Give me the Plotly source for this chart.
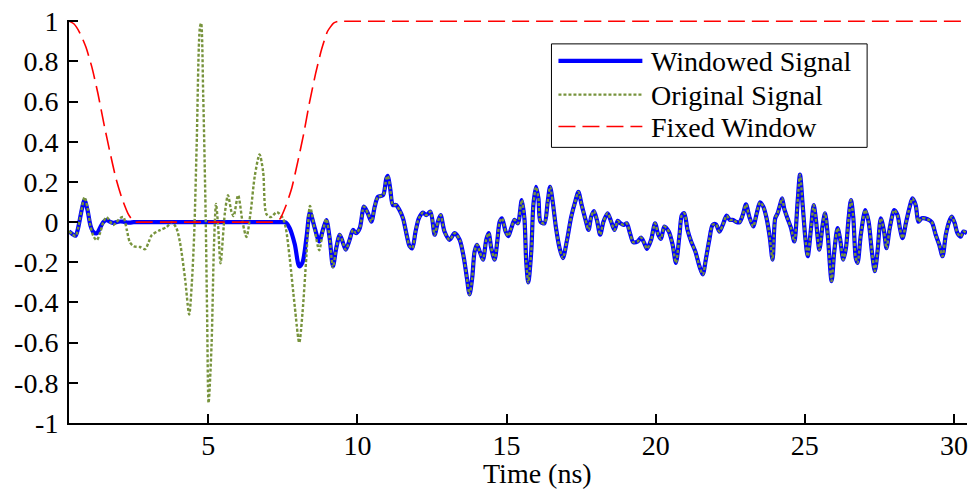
import plotly.graph_objects as go

# ---- Data -------------------------------------------------------------
# Leading part of the record (ns): raw signal and the signal after windowing
t_pre = [0.33, 0.45, 0.55, 0.65, 0.75, 0.85, 0.95, 1.05, 1.15, 1.26, 1.38, 1.48,
         1.59, 1.70, 1.81, 1.92, 2.05, 2.15, 2.27, 2.37, 2.50, 2.71, 2.88, 3.00,
         3.10, 3.38, 3.60, 3.78, 3.93, 4.05, 4.22, 4.36, 4.45, 4.53, 4.61, 4.72,
         4.76, 4.83, 4.91, 4.96, 5.01, 5.11, 5.19, 5.26, 5.33, 5.41, 5.56, 5.66,
         5.78, 5.85, 6.00, 6.15, 6.28, 6.42, 6.56, 6.72, 6.84, 6.95, 7.10, 7.30,
         7.50, 7.60, 7.73, 7.90, 8.05, 8.16, 8.29, 8.41, 8.57, 8.72, 8.85, 8.96,
         9.07, 9.18, 9.29, 9.41]
original_pre = [-0.046, -0.06, -0.07, -0.02, 0.06, 0.125, 0.07, -0.02, -0.07, -0.09, -0.05, 0.0,
                0.025, 0.005, -0.015, 0.0, 0.02, 0.025, -0.04, -0.10, -0.12, -0.124, -0.135, -0.10,
                -0.066, -0.04, -0.025, 0.0, -0.03, -0.10, -0.28, -0.46, -0.30, -0.05, 0.38, 0.97,
                0.99, 0.63, 0.05, -0.45, -0.90, -0.61, -0.12, 0.09, -0.02, -0.205, 0.05, 0.134,
                0.05, 0.03, 0.134, 0.0, -0.074, 0.05, 0.23, 0.337, 0.25, 0.04, 0.025, 0.05,
                0.02, -0.03, -0.18, -0.42, -0.60, -0.45, -0.17, 0.08, -0.04, -0.14, -0.04, 0.015,
                -0.08, -0.225, -0.13, -0.063]
windowed_pre = [-0.046, -0.06, -0.068, -0.02, 0.057, 0.11, 0.06, -0.017, -0.05, -0.056, -0.026, 0.0,
                0.011, 0.002, -0.004, 0.0, 0.003, 0.002, -0.002, -0.003, 0.0, 0.0, 0.0, 0.0,
                0.0, 0.0, 0.0, 0.0, 0.0, 0.0, 0.0, 0.0, 0.0, 0.0, 0.0, 0.0,
                0.0, 0.0, 0.0, 0.0, 0.0, 0.0, 0.0, 0.0, 0.0, 0.0, 0.0, 0.0,
                0.0, 0.0, 0.0, 0.0, 0.0, 0.0, 0.0, 0.0, 0.0, 0.0, 0.0, 0.0,
                0.0, -0.002, -0.03, -0.11, -0.22, -0.20, -0.08, 0.05, -0.03, -0.096, -0.035, 0.01,
                -0.08, -0.22, -0.13, -0.063]

# Remainder of the record, where the window is fully open (both signals coincide)
t_post = [9.52, 9.61, 9.74, 9.85, 9.96, 10.08, 10.22, 10.35, 10.47, 10.58, 10.69, 10.86,
          10.97, 11.02, 11.10, 11.19, 11.30, 11.41, 11.53, 11.64, 11.75, 11.84, 11.95, 12.06,
          12.20, 12.31, 12.45, 12.59, 12.70, 12.79, 12.92, 13.09, 13.26, 13.43, 13.57, 13.67,
          13.76, 13.85, 13.93, 14.01, 14.10, 14.21, 14.32, 14.40, 14.49, 14.60, 14.69, 14.77,
          14.85, 14.97, 15.06, 15.16, 15.27, 15.38, 15.51, 15.60, 15.66, 15.73, 15.83, 15.90,
          15.99, 16.07, 16.14, 16.27, 16.38, 16.46, 16.55, 16.66, 16.78, 16.89, 17.02, 17.17,
          17.30, 17.41, 17.52, 17.65, 17.75, 17.84, 17.93, 18.03, 18.14, 18.25, 18.39, 18.51,
          18.62, 18.73, 18.82, 18.93, 19.03, 19.14, 19.25, 19.40, 19.51, 19.62, 19.71, 19.85,
          19.98, 20.09, 20.18, 20.29, 20.44, 20.57, 20.68, 20.80, 20.88, 20.96, 21.07, 21.19,
          21.33, 21.47, 21.58, 21.69, 21.80, 21.91, 22.02, 22.14, 22.25, 22.38, 22.49, 22.60,
          22.69, 22.81, 22.92, 23.03, 23.14, 23.27, 23.39, 23.50, 23.61, 23.72, 23.83, 23.92,
          24.01, 24.09, 24.17, 24.24, 24.31, 24.42, 24.54, 24.65, 24.76, 24.84, 24.93, 25.02,
          25.10, 25.21, 25.30, 25.37, 25.49, 25.60, 25.68, 25.77, 25.90, 25.99, 26.10, 26.19,
          26.29, 26.38, 26.47, 26.55, 26.63, 26.71, 26.77, 26.88, 27.03, 27.14, 27.25, 27.35,
          27.44, 27.55, 27.66, 27.74, 27.85, 28.00, 28.11, 28.19, 28.28, 28.39, 28.52, 28.61,
          28.72, 28.81, 28.92, 29.12, 29.26, 29.39, 29.51, 29.62, 29.73, 29.84, 29.93, 30.03,
          30.12, 30.23, 30.32, 30.44]
signal_post = [-0.105, -0.137, -0.088, -0.039, -0.055, -0.03, 0.077, 0.044, 0.002, 0.077, 0.126, 0.134,
               0.217, 0.23, 0.167, 0.085, 0.085, 0.06, 0.019, -0.055, -0.12, -0.13, -0.047, 0.019,
               0.047, 0.035, 0.052, -0.063, 0.002, 0.035, -0.047, -0.088, -0.055, -0.088, -0.179, -0.277,
               -0.36, -0.277, -0.146, -0.113, -0.146, -0.187, -0.088, -0.055, -0.13, -0.187, -0.096, 0.002,
               0.019, -0.047, -0.07, -0.03, 0.011, -0.006, 0.11, 0.019, -0.195, -0.30, -0.146, 0.085,
               0.175, 0.118, 0.002, -0.006, 0.10, 0.175, 0.10, -0.03, -0.13, -0.179, -0.096, 0.027,
               0.10, 0.15, 0.085, 0.011, -0.039, 0.027, 0.055, 0.011, -0.063, 0.002, 0.044, 0.002,
               -0.039, 0.006, -0.006, -0.014, -0.006, -0.055, -0.10, -0.096, -0.077, -0.105, -0.133, -0.088,
               -0.006, -0.063, -0.083, -0.022, -0.047, -0.113, -0.203, -0.063, 0.035, 0.044, -0.039, -0.096,
               -0.146, -0.22, -0.26, -0.179, -0.088, -0.014, -0.011, -0.047, -0.014, 0.032, 0.011, 0.011,
               0.002, -0.001, 0.035, 0.088, 0.027, -0.022, 0.044, 0.098, 0.077, 0.019, -0.08, -0.187,
               0.019, 0.044, 0.085, 0.118, 0.068, 0.019, -0.03, -0.096, 0.10, 0.236, 0.085, -0.08,
               -0.17, -0.03, 0.085, 0.019, -0.137, -0.014, 0.044, -0.063, -0.294, -0.146, -0.03, -0.088,
               -0.187, -0.13, 0.019, 0.11, 0.019, -0.179, -0.203, -0.063, 0.06, 0.002, -0.146, -0.244,
               -0.146, 0.019, -0.047, -0.13, -0.03, 0.06, 0.035, -0.03, -0.08, -0.006, 0.077, 0.118,
               0.085, 0.002, 0.019, 0.014, -0.001, -0.063, -0.113, -0.17, -0.063, 0.002, 0.027, -0.006,
               -0.055, -0.072, -0.047, -0.055]

# Fixed taper window (closing and re-opening cosine edges, flat in between)
t_window = [0.33, 0.50, 0.70, 0.90, 1.10, 1.30, 1.50, 1.70, 1.90, 2.10, 2.30, 2.45, 2.53,
            2.70, 4.90, 7.05,
            7.23, 7.40, 7.60, 7.80, 8.00, 8.20, 8.40, 8.60, 8.80, 9.00, 9.20, 9.35, 9.43,
            9.60, 20.0, 30.44]
window = [1.0, 0.986, 0.94, 0.87, 0.77, 0.64, 0.49, 0.35, 0.22, 0.12, 0.045, 0.01, 0.0,
          0.0, 0.0, 0.0,
          0.0, 0.015, 0.08, 0.17, 0.30, 0.44, 0.60, 0.74, 0.86, 0.95, 0.99, 0.999, 1.0,
          1.0, 1.0, 1.0]

time_ns = t_pre + t_post
original_signal = original_pre + signal_post
windowed_signal = windowed_pre + signal_post

x_ticks = [5, 10, 15, 20, 25, 30]
y_ticks = [-1, -0.8, -0.6, -0.4, -0.2, 0, 0.2, 0.4, 0.6, 0.8, 1]
y_tick_text = ["-1", "-0.8", "-0.6", "-0.4", "-0.2", "0", "0.2", "0.4", "0.6", "0.8", "1"]

series_names = ["Windowed Signal", "Original Signal", "Fixed Window"]

# ---- Styling ----------------------------------------------------------
FONT = "Times New Roman"
BLUE = "#0000FF"
GREEN = "#77933C"
RED = "#FF0000"

W, H = 974, 491
L, R, T, B = 69, 6, 18, 68
plot_w = W - L - R
plot_h = H - T - B


def px_to_paper(px, py):
    return (px - L) / plot_w, (H - B - py) / plot_h


def text_font():
    return dict(family=FONT, size=28, color="black")


blue_line = dict(color=BLUE, width=4.2)
green_line = dict(color=GREEN, width=2.4, dash="3px,2px")
red_line = dict(color=RED, width=1.6, dash="17px,7px")

fig = go.Figure()
fig.add_trace(go.Scatter(x=time_ns, y=windowed_signal, mode="lines", name=series_names[0],
                         line=dict(**blue_line, shape="spline", smoothing=0.8), showlegend=False))
fig.add_trace(go.Scatter(x=time_ns, y=original_signal, mode="lines", name=series_names[1],
                         line=dict(**green_line, shape="spline", smoothing=0.8), showlegend=False))
fig.add_trace(go.Scatter(x=t_window, y=window, mode="lines", name=series_names[2],
                         line=dict(**red_line, shape="spline", smoothing=0.5), showlegend=False))

# Legend box drawn in pixel positions
bx0, by0 = px_to_paper(552, 146)
bx1, by1 = px_to_paper(868, 42)
fig.add_shape(type="rect", xref="paper", yref="paper", x0=bx0, y0=by0, x1=bx1, y1=by1,
              line=dict(color="black", width=1), fillcolor="white", layer="above")
legend_rows = [59, 93, 125]
legend_styles = [blue_line, green_line, red_line]
for name, row, style in zip(series_names, legend_rows, legend_styles):
    lx0, ly = px_to_paper(559, row)
    lx1, _ = px_to_paper(643, row)
    fig.add_shape(type="line", xref="paper", yref="paper", x0=lx0, x1=lx1, y0=ly, y1=ly,
                  line=style, layer="above")
    tx, ty = px_to_paper(650, row + 1)
    fig.add_annotation(text=name, xref="paper", yref="paper", x=tx, y=ty,
                       xanchor="left", yanchor="middle", showarrow=False, font=text_font())

# Axis title
ax, ay = px_to_paper(538, 474)
fig.add_annotation(text="Time (ns)", xref="paper", yref="paper", x=ax, y=ay,
                   xanchor="center", yanchor="middle", showarrow=False, font=text_font())

fig.update_layout(
    width=W, height=H,
    margin=dict(l=L, r=R, t=T, b=B, pad=0),
    paper_bgcolor="white", plot_bgcolor="white",
    showlegend=False,
)
fig.update_xaxes(range=[0.33, 30.44], tickvals=x_ticks, ticks="inside", ticklen=9, tickwidth=2,
                 tickcolor="black", showline=True, linewidth=2, linecolor="black",
                 showgrid=False, zeroline=False, ticklabelstandoff=-4, tickfont=text_font())
fig.update_yaxes(range=[-1, 1.006], tickvals=y_ticks, ticktext=y_tick_text, ticks="inside", ticklen=9,
                 tickwidth=2, tickcolor="black", showline=True, linewidth=2, linecolor="black",
                 showgrid=False, zeroline=False, ticklabelstandoff=3, tickfont=text_font())

fig.write_html("out.html")
